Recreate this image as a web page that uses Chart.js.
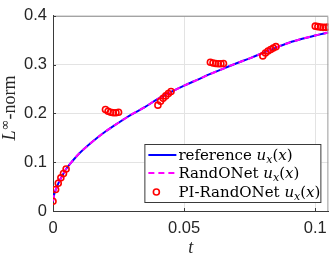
<!DOCTYPE html>
<html>
<head>
<meta charset="utf-8">
<script src="https://cdn.jsdelivr.net/npm/chart.js@4"></script>
<style>
  html, body { margin: 0; padding: 0; background: #fff; }
  #wrap { width: 335px; height: 257px; }
</style>
</head>
<body>
<div id="wrap"><canvas id="c"></canvas></div>
<script>
// Data
const refT = [0, 0.0005, 0.001, 0.002, 0.003, 0.004, 0.005, 0.0075, 0.01, 0.015, 0.02, 0.025, 0.03, 0.035, 0.04, 0.045, 0.05, 0.055, 0.06, 0.065, 0.07, 0.075, 0.08, 0.085, 0.09, 0.095, 0.1, 0.105];
const refV = [0.020, 0.035, 0.043, 0.056, 0.067, 0.077, 0.086, 0.103, 0.118, 0.142, 0.163, 0.181, 0.198, 0.213, 0.230, 0.244, 0.257, 0.269, 0.281, 0.292, 0.303, 0.313, 0.324, 0.335, 0.345, 0.353, 0.360, 0.366];
const randV = [0.020, 0.035, 0.043, 0.056, 0.067, 0.077, 0.086, 0.103, 0.118, 0.142, 0.163, 0.181, 0.198, 0.213, 0.230, 0.244, 0.257, 0.269, 0.281, 0.292, 0.303, 0.313, 0.324, 0.335, 0.345, 0.353, 0.360, 0.366];

const piT = [0, 0.001, 0.002, 0.003, 0.004, 0.005,
             0.020, 0.021, 0.022, 0.023, 0.024, 0.025,
             0.040, 0.041, 0.042, 0.043, 0.044, 0.045,
             0.060, 0.061, 0.062, 0.063, 0.064, 0.065,
             0.080, 0.081, 0.082, 0.083, 0.084, 0.085,
             0.100, 0.101, 0.102, 0.103, 0.104, 0.105];
const piV = [0.020, 0.044, 0.057, 0.068, 0.077, 0.086,
             0.208, 0.2045, 0.2025, 0.2015, 0.2015, 0.2025,
             0.217, 0.225, 0.231, 0.236, 0.241, 0.245,
             0.305, 0.3035, 0.3025, 0.302, 0.302, 0.3025,
             0.318, 0.324, 0.328, 0.331, 0.334, 0.337,
             0.379, 0.378, 0.377, 0.3765, 0.3765, 0.377];

const xTicks = [0, 0.05, 0.1];
const xTickLabels = ['0', '0.05', '0.1'];
const yTicks = [0, 0.1, 0.2, 0.3, 0.4];
const yTickLabels = ['0', '0.1', '0.2', '0.3', '0.4'];

const toPts = (xs, ys) => xs.map((x, i) => ({ x: x, y: ys[i] }));

const SERIF = '"Liberation Serif", "DejaVu Serif", serif';
const LSERIF = '"DejaVu Serif", serif';
const AXIS_COLOR = '#3a3a3a';
const BOX_COLOR = '#9a9a9a';

// draw a run of text pieces with different fonts / offsets
function drawRich(ctx, parts, x, y, align) {
    let total = 0;
    parts.forEach(p => { ctx.font = p.f; total += ctx.measureText(p.t).width; });
    let cx = align === 'center' ? x - total / 2 : x;
    parts.forEach(p => {
        ctx.font = p.f;
        ctx.fillText(p.t, cx, y + (p.dy || 0));
        cx += ctx.measureText(p.t).width;
    });
}

function uxParts(prefix) {
    return [
        { t: prefix + ' ', f: '15px ' + LSERIF },
        { t: 'u', f: 'italic 15px ' + LSERIF },
        { t: 'x', f: 'italic 11px ' + LSERIF, dy: 3 },
        { t: '(', f: '15px ' + LSERIF },
        { t: 'x', f: 'italic 15px ' + LSERIF },
        { t: ')', f: '15px ' + LSERIF }
    ];
}

const decorPlugin = {
    id: 'decor',
    afterDraw(chart) {
        const ctx = chart.ctx;
        const a = chart.chartArea;
        const xs = chart.scales.x, ys = chart.scales.y;
        ctx.save();

        // box and inward ticks
        ctx.strokeStyle = BOX_COLOR;
        ctx.lineWidth = 1;
        ctx.beginPath();
        ctx.moveTo(a.left + 0.5, a.top + 0.5);
        ctx.lineTo(a.right - 0.5, a.top + 0.5);
        ctx.lineTo(a.right - 0.5, a.bottom);
        ctx.stroke();
        ctx.strokeStyle = AXIS_COLOR;
        ctx.beginPath();
        xTicks.forEach(v => {
            const px = Math.round(xs.getPixelForValue(v)) + 0.5;
            ctx.moveTo(px, a.bottom); ctx.lineTo(px, a.bottom - 3);
        });
        yTicks.forEach(v => {
            const py = Math.round(ys.getPixelForValue(v)) + 0.5;
            ctx.moveTo(a.left, py); ctx.lineTo(a.left + 3, py);
        });
        ctx.stroke();

        // axis titles
        ctx.fillStyle = '#262626';
        ctx.textBaseline = 'alphabetic';
        drawRich(ctx, [{ t: 't', f: 'italic 18px ' + SERIF }], (a.left + a.right) / 2, 253, 'center');

        ctx.save();
        ctx.translate(15, 108);
        ctx.rotate(-Math.PI / 2);
        drawRich(ctx, [
            { t: 'L', f: 'italic 18px ' + SERIF },
            { t: '∞', f: '13px "DejaVu Sans", sans-serif', dy: -6 },
            { t: '-norm', f: '18px ' + SERIF }
        ], 0, 0, 'center');
        ctx.restore();

        // legend
        const lw = 177, lh = 59;
        const lx = a.right - 7 - lw, ly = a.bottom - 8 - lh;
        ctx.fillStyle = '#fff';
        ctx.fillRect(lx, ly, lw, lh);
        ctx.strokeStyle = AXIS_COLOR;
        ctx.strokeRect(lx + 0.5, ly + 0.5, lw - 1, lh - 1);

        const ds = chart.data.datasets;
        const rows = [ly + 11, ly + 29, ly + 48];
        const names = ['reference', 'RandONet', 'PI-RandONet'];
        [0, 1, 2].forEach(i => {
            const d = ds[i];
            const ry = rows[i];
            if (i < 2) {
                ctx.strokeStyle = d.borderColor;
                ctx.lineWidth = d.borderWidth;
                ctx.setLineDash(d.borderDash || []);
                ctx.beginPath();
                ctx.moveTo(lx + 4, ry); ctx.lineTo(lx + 32, ry);
                ctx.stroke();
                ctx.setLineDash([]);
            } else {
                ctx.strokeStyle = d.pointBorderColor;
                ctx.lineWidth = d.pointBorderWidth;
                ctx.beginPath();
                ctx.arc(lx + 12, ry, d.pointRadius, 0, Math.PI * 2);
                ctx.stroke();
            }
            ctx.fillStyle = '#000';
            drawRich(ctx, uxParts(names[i]), lx + 34, ry + 5, 'left');
        });
        ctx.restore();
    }
};

const chart = new Chart(document.getElementById('c'), {
    type: 'scatter',
    data: {
        datasets: [
            {
                label: 'reference',
                data: toPts(refT, refV),
                showLine: true,
                borderColor: '#0000ff',
                borderWidth: 2,
                pointRadius: 0,
                cubicInterpolationMode: 'monotone',
                order: 3
            },
            {
                label: 'RandONet',
                data: toPts(refT, randV),
                showLine: true,
                borderColor: '#ff00ff',
                borderWidth: 2,
                borderDash: [6, 4],
                pointRadius: 0,
                cubicInterpolationMode: 'monotone',
                order: 2
            },
            {
                label: 'PI-RandONet',
                data: toPts(piT, piV),
                showLine: false,
                pointRadius: 3,
                pointBorderWidth: 1.6,
                pointBorderColor: '#ff0000',
                pointBackgroundColor: 'rgba(0,0,0,0)',
                order: 1
            }
        ]
    },
    options: {
        responsive: true,
        maintainAspectRatio: false,
        animation: false,
        layout: { padding: { left: 0, right: 3, top: 6, bottom: 0 } },
        plugins: { legend: { display: false }, tooltip: { enabled: false } },
        scales: {
            x: {
                type: 'linear',
                min: 0,
                max: 0.105,
                afterBuildTicks: s => { s.ticks = xTicks.map(v => ({ value: v })); },
                afterFit: s => { s.height = 46; },
                ticks: {
                    color: '#262626',
                    font: { family: '"Liberation Sans", Arial, sans-serif', size: 16.5 },
                    padding: 8,
                    maxRotation: 0,
                    callback: v => xTickLabels[xTicks.indexOf(v)]
                },
                grid: { color: '#e3e3e3', drawTicks: false },
                border: { color: AXIS_COLOR }
            },
            y: {
                min: 0,
                max: 0.4,
                afterBuildTicks: s => { s.ticks = yTicks.map(v => ({ value: v })); },
                afterFit: s => { s.width = 53; },
                ticks: {
                    color: '#262626',
                    font: { family: '"Liberation Sans", Arial, sans-serif', size: 16.5 },
                    padding: 6,
                    callback: v => yTickLabels[yTicks.indexOf(v)]
                },
                grid: { color: '#e3e3e3', drawTicks: false },
                border: { color: AXIS_COLOR }
            }
        }
    },
    plugins: [decorPlugin]
});
</script>
</body>
</html>
